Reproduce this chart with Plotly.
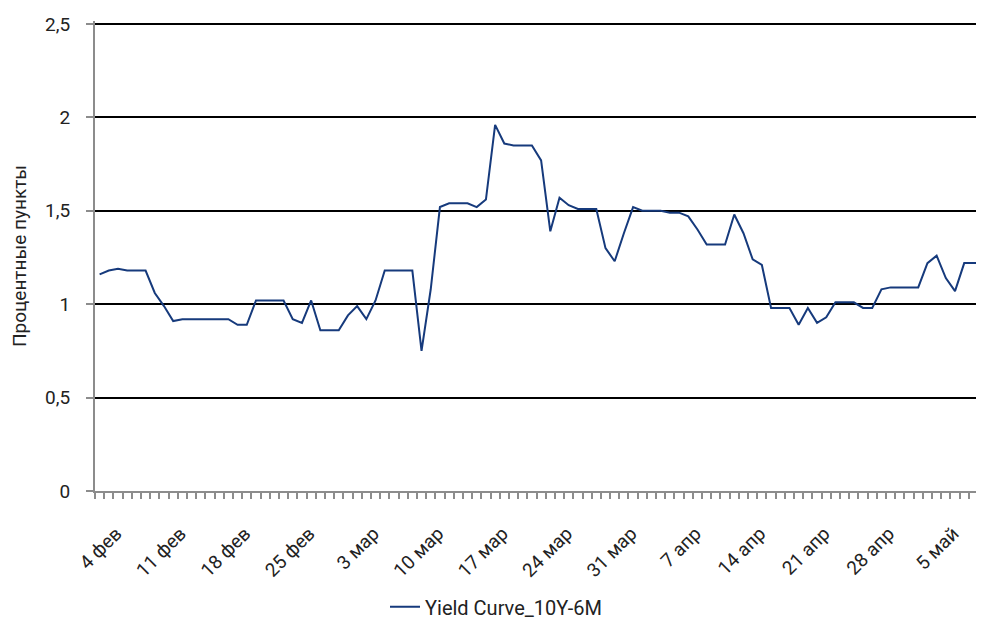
import pandas as pd
import plotly.graph_objects as go

# Daily observations, 4 Feb - 10 May
start_date = "2020-02-04"
values = [
    1.16, 1.18, 1.19, 1.18, 1.18, 1.18, 1.06, 0.99, 0.91, 0.92,
    0.92, 0.92, 0.92, 0.92, 0.92, 0.89, 0.89, 1.02, 1.02, 1.02,
    1.02, 0.92, 0.90, 1.02, 0.86, 0.86, 0.86, 0.94, 0.99, 0.92,
    1.02, 1.18, 1.18, 1.18, 1.18, 0.75, 1.08, 1.52, 1.54, 1.54,
    1.54, 1.52, 1.56, 1.96, 1.86, 1.85, 1.85, 1.85, 1.77, 1.39,
    1.57, 1.53, 1.51, 1.51, 1.51, 1.30, 1.23, 1.38, 1.52, 1.50,
    1.50, 1.50, 1.49, 1.49, 1.47, 1.40, 1.32, 1.32, 1.32, 1.48,
    1.38, 1.24, 1.21, 0.98, 0.98, 0.98, 0.89, 0.98, 0.90, 0.93,
    1.01, 1.01, 1.01, 0.98, 0.98, 1.08, 1.09, 1.09, 1.09, 1.09,
    1.22, 1.26, 1.14, 1.07, 1.22, 1.22, 1.22,
]
month_names = {2: "фев", 3: "мар", 4: "апр", 5: "май"}
series_name = "Yield Curve_10Y-6M"
y_title = "Процентные пункты"
y_ticks = [0, 0.5, 1, 1.5, 2, 2.5]

dates = pd.date_range(start_date, periods=len(values), freq="D")
categories = [f"{d.day} {month_names[d.month]}" for d in dates]
x_idx = list(range(len(values)))
label_idx = x_idx[::7]
label_text = [categories[i] for i in label_idx]

# style: rotated labels sit slightly right of their day, as in the source
label_shift = 1.8

font_family = "Roboto, 'DejaVu Sans', sans-serif"
txt = "#222222"
axis_grey = "#8c8c8c"

fig = go.Figure()
fig.add_trace(go.Scatter(
    x=x_idx, y=values, mode="lines", name=series_name,
    line=dict(color="#163a7c", width=2),
    customdata=categories,
    hovertemplate="%{customdata}: %{y}<extra></extra>",
))

fig.update_layout(
    width=976, height=625,
    margin=dict(l=87, r=0, t=13, b=142),
    paper_bgcolor="white", plot_bgcolor="white",
    separators=", ",
    font=dict(family=font_family, size=19, color=txt),
    showlegend=True,
    legend=dict(orientation="h", xref="container", x=0.5, xanchor="center",
                yref="container", y=0.042, yanchor="middle",
                font=dict(size=20, color=txt)),
    xaxis=dict(
        range=[-0.5, 96.15],
        tickmode="array", tickvals=[i + label_shift for i in label_idx], ticktext=label_text,
        tickangle=-45, ticks="", showgrid=False, zeroline=False,
        showline=True, linecolor=axis_grey, linewidth=2,
        ticklabelstandoff=22,
        tickfont=dict(size=19, color=txt),
        minor=dict(ticks="outside", tick0=-0.5, dtick=1, ticklen=6,
                   tickcolor=axis_grey, tickwidth=1.5, showgrid=False),
    ),
    yaxis=dict(
        range=[0, 2.5161], tickmode="array", tickvals=y_ticks,
        ticks="outside", ticklen=7, tickcolor=axis_grey, tickwidth=1.5,
        showgrid=True, gridcolor="#000000", gridwidth=1.6,
        zeroline=False, showline=True, linecolor=axis_grey, linewidth=2,
        ticklabelstandoff=12,
        tickfont=dict(size=19, color=txt),
        title=dict(text=y_title, font=dict(size=19, color=txt), standoff=14),
    ),
)

fig.write_html("out.html")
